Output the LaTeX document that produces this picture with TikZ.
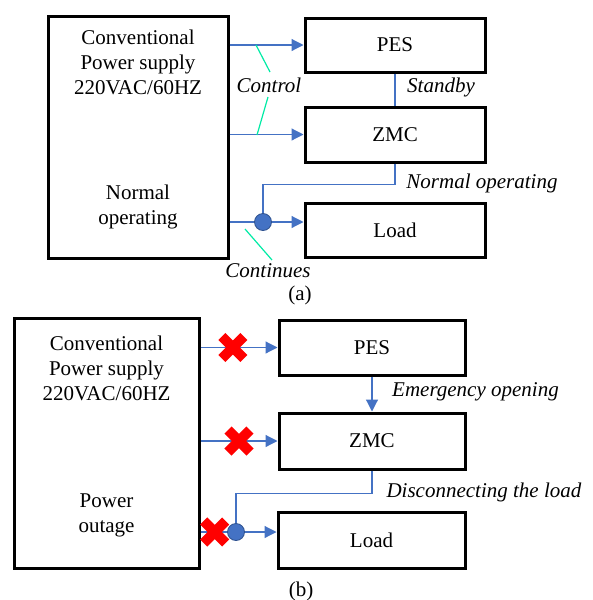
\documentclass[tikz,border=0pt]{standalone}
\usepackage{fontspec}
\setmainfont{Liberation Serif}
\newfontfamily\figserif{Liberation Serif}
\usetikzlibrary{arrows.meta}
\definecolor{wireblue}{RGB}{68,114,196}
\definecolor{dotedge}{RGB}{47,82,143}
\definecolor{markgreen}{RGB}{0,235,165}
\begin{document}
\begin{tikzpicture}[
  x=1pt,
  y=-1pt,
  every node/.style={
    font=\figserif\fontsize{21}{25}\selectfont
  },
  unitbox/.style={
    draw=black,
    line width=3pt,
    minimum width=180pt,
    minimum height=54pt,
    inner sep=0pt
  },
  supplybox/.style={
    draw=black,
    line width=3pt,
    inner sep=0pt
  },
  wire/.style={
    draw=wireblue,
    line width=1.2pt
  },
  feed/.style={
    wire,
    -{Triangle[length=12pt,width=12pt]}
  },
  junction/.style={
    circle,
    fill=wireblue,
    draw=dotedge,
    line width=0.8pt,
    minimum size=17pt,
    inner sep=0pt
  },
  tagline/.style={
    draw=markgreen,
    line width=1.2pt
  },
  crossline/.style={
    draw=red,
    line width=10pt,
    line cap=butt
  },
  tag/.style={
    font=\figserif\fontsize{21}{25}\selectfont\itshape
  }
]

\newcommand{\drawcross}[1]{%
  \begin{scope}[shift={(#1)}]
    \draw[crossline] (-11,-11) -- (11,11);
    \draw[crossline] (-11,11) -- (11,-11);
  \end{scope}
}

\useasboundingbox (0,0) rectangle (592,600);

% (a) normal operating
\node[supplybox, minimum width=180pt, minimum height=242pt] (supA) at (138,137) {};
\node[align=center] (supAtop) at (138,62) {Conventional\\Power supply\\220VAC/60HZ};
\node[align=center] (supAmode) at (138,207) {Normal\\operating};
\node[unitbox] (pesA) at (395,45) {PES};
\node[unitbox, minimum height=55pt] (zmcA) at (395,134.5) {ZMC};
\node[unitbox] (loadA) at (395,230) {Load};
\node[junction] (dotA) at (263,222) {};

\draw[feed] (pesA.west -| supA.east) -- (pesA.west);
\draw[feed] (zmcA.west -| supA.east) -- (zmcA.west);
\draw[wire] (dotA -| supA.east) -- (dotA);
\draw[feed] (dotA) -- (dotA -| loadA.west);
\draw[wire] (pesA.south) -- (zmcA.north);
\draw[wire] (zmcA.south) -- ++(0,21) -| (dotA);

\draw[tagline] (256,45) -- (270,72);
\draw[tagline] (268,97) -- (257,135);
\draw[tagline] (245,229) -- (272,260);

\node[tag] (ctrlA) at (269,85) {Control};
\node[tag] (stbyA) at (441,87) {Standby};
\node[tag] (normA) at (482,183) {Normal operating};
\node[tag] (contA) at (268,271) {Continues};
\node (capA) at (300,295) {(a)};

% (b) power outage
\node[supplybox, minimum width=185pt, minimum height=250pt] (supB) at (106.5,443) {};
\node[align=center] (supBtop) at (106.5,368) {Conventional\\Power supply\\220VAC/60HZ};
\node[align=center] (supBmode) at (106.5,515.5) {Power\\outage};
\node[unitbox, minimum width=186pt, minimum height=55pt] (pesB) at (372,347.5) {PES};
\node[unitbox, minimum width=186pt, minimum height=56pt] (zmcB) at (372,441) {ZMC};
\node[unitbox, minimum width=187pt, minimum height=56pt] (loadB) at (371.5,540) {Load};
\coordinate (dotPos) at (236,532);

\draw[feed] (pesB.west -| supB.east) -- coordinate[pos=0.42] (cutPes) (pesB.west);
\draw[feed] (zmcB.west -| supB.east) -- coordinate[pos=0.5] (cutZmc) (zmcB.west);
\draw[wire] (dotPos -| supB.east) -- coordinate[pos=0.4] (cutLoad) (dotPos);
\draw[wire] (zmcB.south) -- ++(0,23) -| (dotPos);

\drawcross{cutPes}
\drawcross{cutZmc}
\drawcross{cutLoad}

\node[junction] (dotB) at (dotPos) {};
\draw[feed] (dotB) -- (dotB -| loadB.west);
\draw[feed] (pesB.south) -- (zmcB.north);

\node[tag] (emgB) at (475.5,392) {Emergency opening};
\node[tag, anchor=west] (discB) at (383,492) {Disconnecting the load};
\node (capB) at (301,591) {(b)};

\end{tikzpicture}
\end{document}
